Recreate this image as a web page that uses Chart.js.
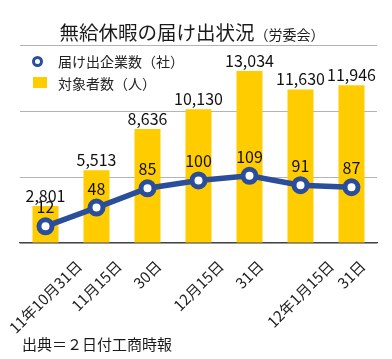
<!DOCTYPE html>
<html>
<head>
<meta charset="utf-8">
<script src="https://cdn.jsdelivr.net/npm/chart.js@4/dist/chart.umd.min.js"></script>
<style>
  html, body { margin: 0; padding: 0; background: #fff; }
  #wrap { position: relative; width: 392px; height: 359px; font-family: "Noto Sans CJK JP", sans-serif; color: #222; }
  #c { position: absolute; left: 0; top: 0; }
  #title { position: absolute; left: 0; width: 384px; top: 15px; text-align: center; font-size: 19.5px; line-height: 34px; white-space: nowrap; color: #1a1a1a; }
  #title small { font-size: 14px; }
  .lg { position: absolute; left: 58px; font-size: 14px; line-height: 20px; white-space: nowrap; color: #222; }
  .mk { position: absolute; }
  #src { position: absolute; left: 22px; top: 333px; font-size: 15px; line-height: 22px; white-space: nowrap; color: #1a1a1a; }
</style>
</head>
<body>
<div id="wrap">
  <canvas id="c" width="392" height="359"></canvas>
  <div id="title">無給休暇の届け出状況<small>（労委会）</small></div>
  <div class="mk" style="left:32px;top:56px;width:5px;height:5px;border:3px solid #2A4D9C;border-radius:50%;background:#fff;"></div>
  <div class="lg" style="top:51px;">届け出企業数（社）</div>
  <div class="mk" style="left:33px;top:77px;width:14px;height:11px;background:#FFCC00;"></div>
  <div class="lg" style="top:73px;">対象者数（人）</div>
  <div id="src">出典＝２日付工商時報</div>
</div>
<script>
const categories = ["11年10月31日", "11月15日", "30日", "12月15日", "31日", "12年1月15日", "31日"];
const workers = [2801, 5513, 8636, 10130, 13034, 11630, 11946];
const companies = [12, 48, 85, 100, 109, 91, 87];
const workerLabel = "対象者数（人）";
const companyLabel = "届け出企業数（社）";

const FONT = '"Noto Sans CJK JP", sans-serif';

const valueLabels = {
  id: 'valueLabels',
  afterDatasetsDraw(chart) {
    const ctx = chart.ctx;
    ctx.save();
    ctx.font = '16px ' + FONT;
    ctx.fillStyle = '#111';
    ctx.textAlign = 'center';
    ctx.textBaseline = 'alphabetic';
    chart.data.datasets.forEach((ds, i) => {
      const meta = chart.getDatasetMeta(i);
      meta.data.forEach((el, j) => {
        const v = ds.data[j];
        const txt = v.toLocaleString('en-US');
        if (ds.type === 'line') {
          ctx.fillText(txt, el.x, el.y - 13);
        } else {
          ctx.fillText(txt, el.x, el.y - 4);
        }
      });
    });
    ctx.restore();
  }
};

// center rotated x tick labels on their ticks
const centerTicks = {
  id: 'centerTicks',
  beforeDraw(chart) {
    const scale = chart.scales.x;
    const items = scale.getLabelItems();
    const ctx = chart.ctx;
    items.forEach(it => {
      if (it._shifted) return;
      ctx.save();
      ctx.font = it.font.string;
      const w = ctx.measureText(String(it.label)).width;
      ctx.restore();
      const r = Math.abs(it.options.rotation || 0);
      it.options.translation[0] += (w / 2) * Math.cos(r);
      it._shifted = true;
    });
  }
};

new Chart(document.getElementById('c'), {
  type: 'bar',
  data: {
    labels: categories,
    datasets: [
      {
        type: 'line',
        label: companyLabel,
        data: companies,
        yAxisID: 'y1',
        borderColor: '#2A4D9C',
        borderWidth: 5.5,
        pointRadius: 6.5,
        pointBorderWidth: 5,
        pointBackgroundColor: '#fff',
        pointBorderColor: '#2A4D9C',
        tension: 0,
        order: 0
      },
      {
        type: 'bar',
        label: workerLabel,
        data: workers,
        yAxisID: 'y',
        backgroundColor: '#FFCC00',
        categoryPercentage: 1,
        barPercentage: 0.51,
        order: 1
      }
    ]
  },
  options: {
    responsive: false,
    animation: false,
    layout: { padding: { top: 45, left: 20, right: 15, bottom: 0 } },
    plugins: {
      legend: { display: false },
      title: { display: false },
      tooltip: { enabled: false }
    },
    scales: {
      x: {
        grid: { display: false, drawTicks: false },
        border: { display: true, color: '#444', width: 1.2 },
        ticks: {
          font: { family: FONT, size: 15 },
          color: '#222',
          maxRotation: 45,
          minRotation: 45,
          autoSkip: false,
          padding: 14
        },
        afterFit(s) { s.height = 116; s.paddingLeft = 0; s.paddingRight = 0; }
      },
      y: {
        position: 'left',
        min: 0,
        max: 15000,
        ticks: { display: false, stepSize: 5000 },
        grid: { color: '#b4b4b4', lineWidth: 1, drawTicks: false },
        border: { display: false },
        afterFit(s) { s.width = 0; }
      },
      y1: {
        position: 'right',
        display: false,
        min: -20,
        max: 360
      }
    }
  },
  plugins: [centerTicks, valueLabels]
});
</script>
</body>
</html>
